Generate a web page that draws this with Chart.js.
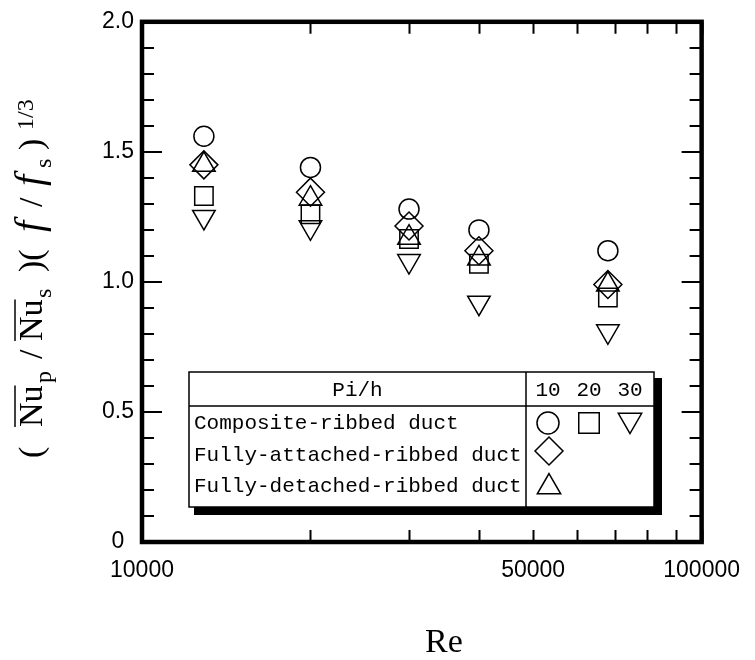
<!DOCTYPE html>
<html lang="en">
<head>
<meta charset="UTF-8">
<title>Composite-ribbed duct performance</title>
<script src="https://cdn.jsdelivr.net/npm/chart.js"></script>
<style>
  html, body { margin: 0; padding: 0; background: #fff; }
  .chart-box { width: 755px; height: 660px; position: relative; }
</style>
</head>
<body>
<div class="chart-box"><canvas id="perfChart"></canvas></div>
<script>
// Reynolds numbers of the five test points
const reynolds = [12900, 20000, 30000, 40000, 68000];

// (Nu_p/Nu_s)(f/f_s)^(1/3) - composite-ribbed duct at Pi/h = 10, 20, 30
const composite10 = [1.56, 1.44, 1.28, 1.20, 1.12];
const composite20 = [1.33, 1.26, 1.165, 1.07, 0.94];
const composite30 = [1.25, 1.21, 1.08, 0.92, 0.81];
// fully-attached / fully-detached ribbed ducts
const attached = [1.45, 1.345, 1.215, 1.12, 0.99];
const detached = [1.45, 1.32, 1.17, 1.09, 0.99];

// axis ticks
const xTickValues = [10000, 50000, 100000];
const xTickLabels = ['10000', '50000', '100000'];
const xMinorValues = [20000, 30000, 40000, 60000, 70000, 80000, 90000];
const yTickValues = [0, 0.5, 1.0, 1.5, 2.0];
const yTickLabels = ['0', '0.5', '1.0', '1.5', '2.0'];
const yMinorValues = [0.1, 0.2, 0.3, 0.4, 0.6, 0.7, 0.8, 0.9, 1.1, 1.2, 1.3, 1.4, 1.6, 1.7, 1.8, 1.9];

// legend table text
const legendHeader = 'Pi/h';
const pitchLabels = ['10', '20', '30'];
const ductNames = ['Composite-ribbed duct', 'Fully-attached-ribbed duct', 'Fully-detached-ribbed duct'];

const SANS = '"Liberation Sans", Arial, sans-serif';
const SERIF = '"Liberation Serif", "Times New Roman", serif';
const MONO = '"Liberation Mono", "Courier New", monospace';

function series(label, values, style, radius, rotation) {
    return {
        label: label,
        data: reynolds.map((re, i) => ({ x: re, y: values[i] })),
        pointStyle: style,
        pointRadius: radius,
        pointRotation: rotation || 0,
        pointBorderColor: '#000',
        pointBackgroundColor: 'rgba(0,0,0,0)',
        pointBorderWidth: 1.5,
        showLine: false
    };
}

// y axis title pieces, offsets along the rotated baseline
const titleParts = [
    { text: '(', at: 0, kind: 'n' },
    { text: 'Nu', at: 31, kind: 'n', over: true },
    { text: 'p', at: 75, kind: 'sub' },
    { text: '/', at: 99, kind: 'n' },
    { text: 'Nu', at: 117, kind: 'n', over: true },
    { text: 's', at: 160, kind: 'sub' },
    { text: ')(', at: 186, kind: 'n' },
    { text: 'f', at: 226, kind: 'it' },
    { text: '/', at: 251, kind: 'n' },
    { text: 'f', at: 272, kind: 'it' },
    { text: 's', at: 290, kind: 'sub' },
    { text: ')', at: 308, kind: 'n' },
    { text: '1/3', at: 328, kind: 'sup' }
];
const titleFonts = {
    n: { font: '34px ' + SERIF, dy: 0 },
    it: { font: 'italic 40px ' + SERIF, dy: 0 },
    sub: { font: '24px ' + SERIF, dy: 9 },
    sup: { font: '24px ' + SERIF, dy: -9 }
};

const decorations = {
    id: 'decorations',
    afterDraw(chart) {
        const { ctx, chartArea: a, scales: { x, y } } = chart;
        ctx.save();
        ctx.strokeStyle = '#000';
        ctx.fillStyle = '#000';

        // inward ticks
        ctx.lineWidth = 2;
        ctx.beginPath();
        xTickValues.concat(xMinorValues).forEach(v => {
            const px = Math.round(x.getPixelForValue(v)) + 0.5;
            ctx.moveTo(px, a.bottom); ctx.lineTo(px, a.bottom - 12);
            ctx.moveTo(px, a.top); ctx.lineTo(px, a.top + 12);
        });
        yMinorValues.forEach(v => {
            const py = Math.round(y.getPixelForValue(v));
            ctx.moveTo(a.left, py); ctx.lineTo(a.left + 12, py);
            ctx.moveTo(a.right, py); ctx.lineTo(a.right - 12, py);
        });
        yTickValues.forEach(v => {
            const py = Math.round(y.getPixelForValue(v));
            ctx.moveTo(a.left, py); ctx.lineTo(a.left + 20, py);
            ctx.moveTo(a.right, py); ctx.lineTo(a.right - 20, py);
        });
        ctx.stroke();

        // heavy frame
        ctx.lineWidth = 4.5;
        ctx.strokeRect(a.left, a.top, a.right - a.left, a.bottom - a.top);

        // legend table with drop shadow
        const L = 189, T = 372, R = 654, B = 507, div = 526, hdr = 406;
        ctx.fillRect(R, T + 6, 8, B - T + 2);
        ctx.fillRect(L + 5, B, R - L + 3, 8);
        ctx.fillStyle = '#fff';
        ctx.fillRect(L, T, R - L, B - T);
        ctx.fillStyle = '#000';
        ctx.lineWidth = 1.5;
        ctx.strokeRect(L, T, R - L, B - T);
        ctx.beginPath();
        ctx.moveTo(L, hdr); ctx.lineTo(R, hdr);
        ctx.moveTo(div, T); ctx.lineTo(div, B);
        ctx.stroke();

        ctx.font = '21px ' + MONO;
        ctx.textBaseline = 'middle';
        ctx.textAlign = 'center';
        ctx.fillText(legendHeader, (L + div) / 2, 390);
        const colX = [548, 589, 630];
        pitchLabels.forEach((t, i) => ctx.fillText(t, colX[i], 390));
        ctx.textAlign = 'left';
        const rowY = [423, 455, 486];
        ductNames.forEach((t, i) => ctx.fillText(t, L + 5, rowY[i]));

        const mark = (style, r, rot, px, py) => Chart.helpers.drawPoint(ctx,
            { pointStyle: style, radius: r, rotation: rot, borderWidth: 1.5 }, px, py);
        ctx.fillStyle = 'rgba(0,0,0,0)';
        ctx.lineWidth = 1.5;
        mark('circle', 11, 0, colX[0], 423);
        mark('rect', 14.5, 0, colX[1], 423);
        mark('triangle', 13.5, 180, colX[2], 420);
        mark('rectRot', 14, 0, 549, 451);
        mark('triangle', 13.5, 0, 549, 487);

        // x title
        ctx.fillStyle = '#000';
        ctx.font = '34px ' + SERIF;
        ctx.textAlign = 'center';
        ctx.textBaseline = 'alphabetic';
        ctx.fillText('Re', 444, 652);

        // y title (rotated)
        ctx.translate(42, 458);
        ctx.rotate(-Math.PI / 2);
        ctx.textAlign = 'left';
        titleParts.forEach(p => {
            const f = titleFonts[p.kind];
            ctx.font = f.font;
            ctx.fillText(p.text, p.at, f.dy);
            if (p.over) {
                const w = ctx.measureText(p.text).width;
                ctx.lineWidth = 1.5;
                ctx.beginPath();
                ctx.moveTo(p.at, -27); ctx.lineTo(p.at + w, -27);
                ctx.stroke();
            }
        });
        ctx.restore();
    }
};

const tickFont = { family: SANS, size: 23 };

new Chart(document.getElementById('perfChart'), {
    type: 'scatter',
    data: {
        datasets: [
            series('Composite Pi/h=10', composite10, 'circle', 10, 0),
            series('Composite Pi/h=20', composite20, 'rect', 13, 0),
            series('Composite Pi/h=30', composite30, 'triangle', 13, 180),
            series('Fully-attached', attached, 'rectRot', 14, 0),
            series('Fully-detached', detached, 'triangle', 13, 0)
        ]
    },
    options: {
        responsive: true,
        maintainAspectRatio: false,
        animation: false,
        layout: { padding: { top: 17, right: 37, left: 0, bottom: 0 } },
        plugins: { legend: { display: false }, tooltip: { enabled: false } },
        scales: {
            x: {
                type: 'logarithmic', min: 10000, max: 100000,
                grid: { display: false, drawTicks: false },
                border: { display: false },
                afterBuildTicks: s => { s.ticks = xTickValues.map(v => ({ value: v })); },
                afterFit: s => { s.height = 118; },
                ticks: {
                    autoSkip: false, maxRotation: 0, padding: 15, color: '#000', font: tickFont,
                    callback: (v, i) => xTickLabels[i]
                }
            },
            y: {
                type: 'linear', min: 0, max: 2,
                grid: { display: false, drawTicks: false },
                border: { display: false },
                afterBuildTicks: s => { s.ticks = yTickValues.map(v => ({ value: v })); },
                afterFit: s => { s.width = 142; },
                ticks: {
                    padding: 8, crossAlign: 'center', color: '#000', font: tickFont,
                    callback: (v, i) => yTickLabels[i]
                }
            }
        }
    },
    plugins: [decorations]
});
</script>
</body>
</html>
